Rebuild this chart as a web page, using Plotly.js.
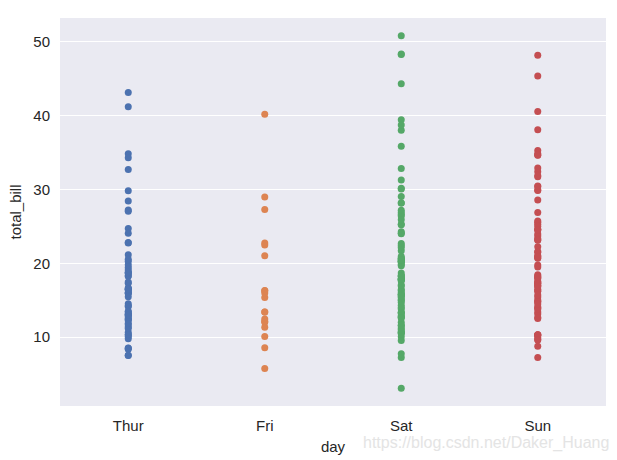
<!DOCTYPE html>
<html><head><meta charset="utf-8">
<script src="https://cdn.plot.ly/plotly-3.0.1.min.js"></script>
<style>html,body{margin:0;padding:0;background:#fff}#chart{width:617px;height:460px}</style>
</head><body><div id="chart"></div>
<script>
const days = ["Thur", "Fri", "Sat", "Sun"];
const colors = ["#4C72B0", "#DD8452", "#55A868", "#C44E52"];
const thur = [27.20, 22.76, 17.29, 19.44, 16.66, 10.07, 32.68, 15.98, 34.83, 13.03, 18.28, 24.71, 21.16,
  10.65, 12.43, 24.08, 11.69, 13.42, 14.26, 15.95, 12.48, 29.80, 8.52, 14.52, 11.38, 22.82, 19.08, 20.27, 11.17, 12.26, 18.26, 8.51, 10.33, 14.15, 16.00, 13.16, 17.47, 34.30, 41.19, 27.05, 16.43, 8.35, 18.64, 11.87, 9.78, 7.51,
  19.81, 28.44, 15.48, 16.58, 7.56, 10.34, 43.11, 13.00, 13.51, 18.71, 12.74, 13.00, 16.40, 20.53, 16.47, 18.78];
const fri = [28.97, 22.49, 5.75, 16.32, 22.75, 40.17, 27.28, 12.03, 21.01, 12.46, 11.35, 15.38,
  12.16, 13.42, 8.58, 15.98, 13.42, 16.27, 10.09];
const sat = [20.65, 17.92, 20.29, 15.77, 39.42, 19.82, 17.81, 13.37, 12.69, 21.70, 19.65, 9.55, 18.35, 15.06, 20.69, 17.78, 24.06, 16.31, 16.93, 18.69, 31.27, 16.04,
  38.01, 26.41, 11.24, 48.27, 20.29, 13.81,
  11.02, 18.29, 17.59, 20.08, 16.45, 3.07, 20.23, 15.01, 12.02, 17.07, 26.86, 25.28, 14.73, 10.51, 17.92,
  44.30, 22.42, 20.92, 15.36, 20.49, 25.21, 18.24, 14.31, 14.00, 7.25,
  10.59, 10.63, 50.81, 15.81,
  26.59, 38.73, 24.27, 12.76, 30.06, 25.89, 48.33, 13.27, 28.17, 12.90, 28.15, 11.59, 7.74, 30.14,
  20.45, 13.28, 22.12, 24.01, 15.69, 11.61, 10.77, 15.53, 10.07, 12.60, 32.83, 35.83, 29.03, 27.18, 22.67, 17.82];
const sun = [16.99, 10.34, 21.01, 23.68, 24.59, 25.29, 8.77, 26.88, 15.04, 14.78, 10.27, 35.26, 15.42, 18.43, 14.83, 21.58, 10.33, 16.29, 16.97,
  17.46, 13.94, 9.68, 30.40, 18.29, 22.23, 32.40, 28.55, 18.04, 12.54, 10.29, 34.81, 9.94, 25.56, 19.49,
  38.07, 23.95, 25.71, 17.31, 29.93,
  14.07, 13.13, 17.26, 24.55, 19.77, 29.85, 48.17, 25.00, 13.39, 16.49, 21.50, 12.66, 16.21, 13.81, 17.51, 24.52, 20.76, 31.71,
  7.25, 31.85, 16.82, 32.90, 17.89, 14.48, 9.60, 34.63, 34.65, 23.33, 45.35, 23.17, 40.55, 20.69, 20.90, 30.46, 18.15, 23.10, 15.69];
const series = [thur, fri, sat, sun];

const traces = series.map((vals, i) => ({
  type: "scatter", mode: "markers",
  x: vals.map(() => days[i]), y: vals,
  marker: {color: colors[i], size: 7, line: {width: 0}},
  showlegend: false, hoverinfo: "x+y"
}));

const font = {family: "Liberation Sans, Arial, sans-serif", size: 15, color: "#262626"};
const layout = {
  width: 617, height: 460,
  margin: {l: 60, r: 11, t: 18, b: 54},
  paper_bgcolor: "#ffffff", plot_bgcolor: "#EAEAF2",
  font: font,
  xaxis: {
    type: "category", categoryorder: "array", categoryarray: days,
    range: [-0.5, 3.5], showgrid: false, zeroline: false, showline: false,
    ticks: "", ticklabelstandoff: 9,
    title: {text: "day", font: font, standoff: 8}
  },
  yaxis: {
    range: [0.68, 53.2], tickvals: [10, 20, 30, 40, 50],
    showgrid: true, gridcolor: "#ffffff", gridwidth: 1.2,
    zeroline: false, showline: false, ticks: "", ticklabelstandoff: 9,
    title: {text: "total_bill", font: font, standoff: 8}
  },
  annotations: [{
    text: "https://blog.csdn.net/Daker_Huang", xref: "paper", yref: "paper",
    x: 1.01, y: -0.095, xanchor: "right", yanchor: "middle", showarrow: false,
    font: {family: "Liberation Sans, Arial, sans-serif", size: 16, color: "#e4e4e4"}
  }]
};
Plotly.newPlot("chart", traces, layout, {staticPlot: true});
</script></body></html>
